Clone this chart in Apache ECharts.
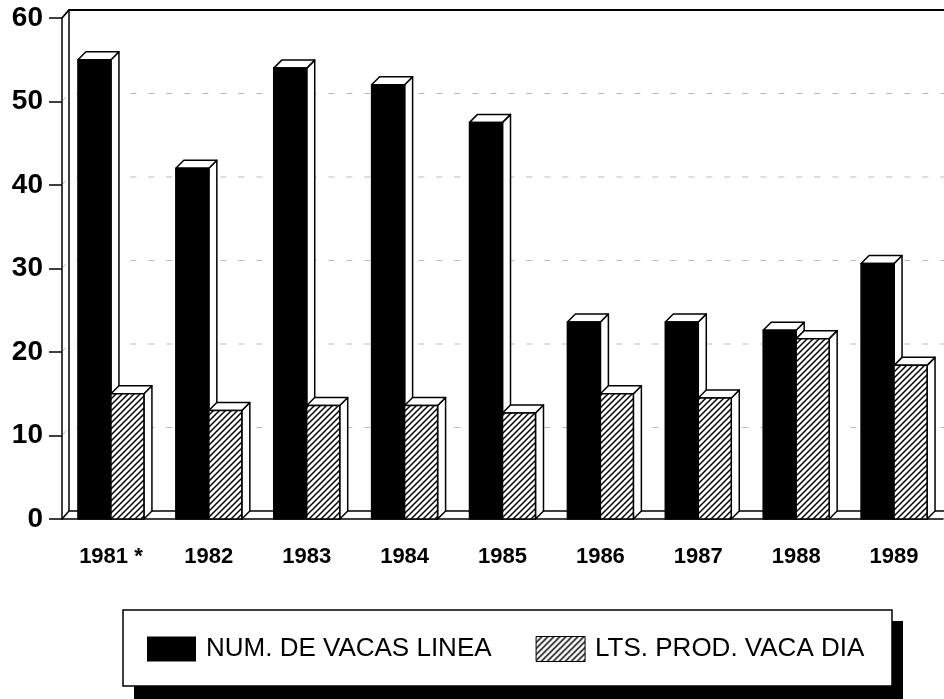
<!DOCTYPE html>
<html>
<head>
<meta charset="utf-8">
<script src="https://cdn.jsdelivr.net/npm/echarts@6/dist/echarts.min.js"></script>
<style>
  html, body { margin: 0; padding: 0; background: #fff; }
  #chart { width: 944px; height: 699px; }
</style>
</head>
<body>
<div id="chart"></div>
<script>
// categorias (años) y valores
const years = ['1981 *', '1982', '1983', '1984', '1985', '1986', '1987', '1988', '1989'];
const vacasLinea = [55, 42, 54, 52, 47.5, 23.6, 23.6, 22.6, 30.6];
const ltsVacaDia = [15, 13, 13.6, 13.6, 12.7, 15, 14.5, 21.6, 18.4];
const yTicks = [0, 10, 20, 30, 40, 50, 60];

// trama diagonal para la serie rayada
function makeHatch() {
  const c = document.createElement('canvas');
  c.width = 6; c.height = 6;
  const ctx = c.getContext('2d');
  ctx.fillStyle = '#fff';
  ctx.fillRect(0, 0, 6, 6);
  ctx.strokeStyle = '#000';
  ctx.lineWidth = 1.5;
  ctx.beginPath();
  ctx.moveTo(-1, 7); ctx.lineTo(7, -1);
  ctx.moveTo(-1, 1); ctx.lineTo(1, -1);
  ctx.moveTo(5, 7); ctx.lineTo(7, 5);
  ctx.stroke();
  return { image: c, repeat: 'repeat' };
}
const hatch = makeHatch();

const DEPTH = 8;
const INK = '#000';

// barra 3D: cara frontal, cara superior y lateral
function bar3d(side, fill) {
  return function (params, api) {
    const i = api.value(0);
    const v = api.value(1);
    const band = api.size([1, 0])[0];
    const w = band * 0.337;
    const base = api.coord([i, 0]);
    const top = api.coord([i, v]);
    const x0 = side === 0 ? base[0] - w : base[0];
    const yb = base[1], yt = top[1];
    const d = DEPTH;
    const edge = { stroke: INK, lineWidth: 1.5, lineJoin: 'round' };
    return {
      type: 'group',
      children: [
        { type: 'polygon', shape: { points: [[x0 + w, yt], [x0 + w + d, yt - d], [x0 + w + d, yb - d], [x0 + w, yb]] },
          style: Object.assign({ fill: '#fff' }, edge) },
        { type: 'polygon', shape: { points: [[x0, yt], [x0 + d, yt - d], [x0 + w + d, yt - d], [x0 + w, yt]] },
          style: Object.assign({ fill: '#fff' }, edge) },
        { type: 'rect', shape: { x: x0, y: yt, width: w, height: yb - yt },
          style: Object.assign({ fill: fill }, edge) }
      ]
    };
  };
}

// pared del fondo, piso y lineas guia
function renderFrame(params, api) {
  const cs = params.coordSys;
  const L = cs.x, T = cs.y, R = cs.x + cs.width, B = cs.y + cs.height;
  const dx = 7, dy = 8;
  const children = [];
  yTicks.forEach(function (t) {
    if (t === 0 || t === yTicks[yTicks.length - 1]) return;
    const y = api.coord([0, t])[1];
    children.push({
      type: 'polyline',
      shape: { points: [[L, y], [L + dx, y - dy], [R + dx, y - dy]] },
      style: { stroke: '#777', lineWidth: 1, lineDash: [6, 12], opacity: 0.5, fill: null }
    });
  });
  children.push({
    type: 'polyline',
    shape: { points: [[L, T], [L + dx, T - dy], [R + dx, T - dy]] },
    style: { stroke: INK, lineWidth: 1.8, fill: null }
  });
  children.push({
    type: 'polyline',
    shape: { points: [[L + dx, T - dy], [L + dx, B - dy]] },
    style: { stroke: INK, lineWidth: 1.5, fill: null }
  });
  children.push({
    type: 'polyline',
    shape: { points: [[L, B], [L + dx, B - dy], [R + dx, B - dy]] },
    style: { stroke: INK, lineWidth: 1.5, fill: null }
  });
  return { type: 'group', children: children };
}

const chart = echarts.init(document.getElementById('chart'));

chart.setOption({
  animation: false,
  backgroundColor: '#fff',
  grid: { left: 62, right: 1, top: 18, bottom: 180 },
  xAxis: {
    type: 'category',
    data: years,
    axisLine: { lineStyle: { color: INK, width: 1.5 } },
    axisTick: { alignWithLabel: true, length: 9, lineStyle: { color: INK, width: 1.2 } },
    axisLabel: {
      interval: 0, margin: 27, color: INK,
      fontFamily: 'Liberation Sans', fontSize: 22, fontWeight: 'bold'
    },
    splitLine: { show: false }
  },
  yAxis: {
    type: 'value',
    min: 0, max: 60, interval: 10,
    axisLine: { show: true, lineStyle: { color: INK, width: 1.5 } },
    axisTick: { show: true, length: 13, lineStyle: { color: INK, width: 1.5 } },
    axisLabel: {
      margin: 19, color: INK,
      fontFamily: 'Liberation Sans', fontSize: 28, fontWeight: 'bold'
    },
    splitLine: { show: false }
  },
  graphic: [
    { type: 'rect', z: 0, shape: { x: 134, y: 621, width: 769, height: 80 }, style: { fill: INK } },
    { type: 'rect', z: 0, shape: { x: 123, y: 610, width: 769, height: 76 },
      style: { fill: '#fff', stroke: INK, lineWidth: 1.5 } }
  ],
  legend: {
    z: 10,
    left: 147,
    top: 636,
    padding: 0,
    itemWidth: 49,
    itemHeight: 25,
    itemGap: 44,
    selectedMode: false,
    textStyle: { color: INK, fontFamily: 'Liberation Sans', fontSize: 26, padding: [0, 0, 0, 5] },
    data: [
      { name: 'NUM. DE VACAS LINEA', icon: 'rect', itemStyle: { color: INK, borderWidth: 0 } },
      { name: 'LTS. PROD. VACA DIA', icon: 'rect', itemStyle: { color: hatch, borderColor: INK, borderWidth: 1 } }
    ]
  },
  series: [
    {
      name: 'frame',
      type: 'custom',
      z: 1,
      silent: true,
      renderItem: renderFrame,
      data: [[0, 0]]
    },
    {
      name: 'NUM. DE VACAS LINEA',
      type: 'custom',
      z: 2,
      itemStyle: { color: INK },
      encode: { x: 0, y: 1 },
      renderItem: bar3d(0, INK),
      data: vacasLinea.map(function (v, i) { return [i, v]; })
    },
    {
      name: 'LTS. PROD. VACA DIA',
      type: 'custom',
      z: 3,
      itemStyle: { color: hatch },
      encode: { x: 0, y: 1 },
      renderItem: bar3d(1, hatch),
      data: ltsVacaDia.map(function (v, i) { return [i, v]; })
    }
  ]
});
</script>
</body>
</html>
